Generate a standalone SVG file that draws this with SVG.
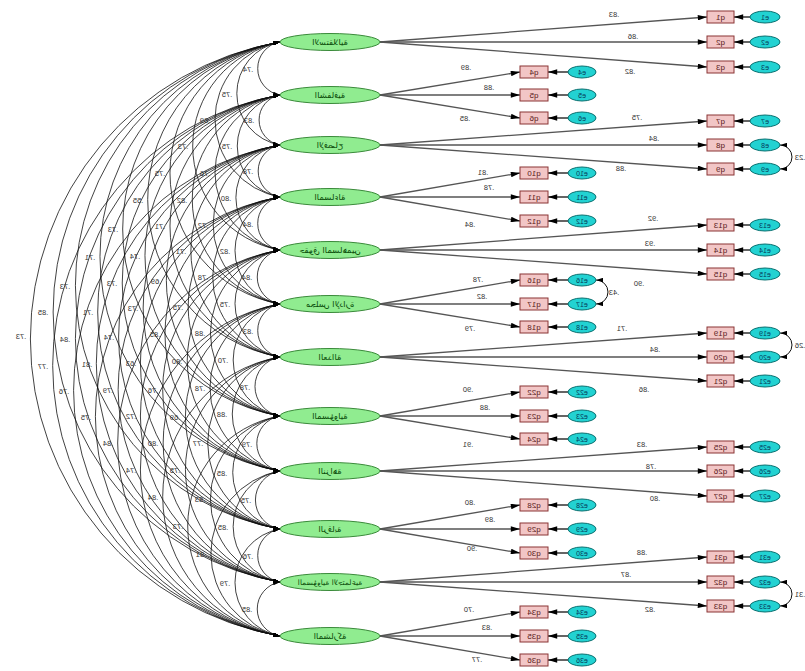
<svg xmlns="http://www.w3.org/2000/svg" width="805" height="671" viewBox="0 0 805 671">
<defs>
<style>
.arc{fill:none;stroke:#111;stroke-width:0.8;marker-start:url(#sa);marker-end:url(#sa)}
.ld{fill:none;stroke:#555;stroke-width:1.3;marker-end:url(#la)}
.er{fill:none;stroke:#111;stroke-width:1.3;marker-end:url(#la)}
.ec{fill:none;stroke:#111;stroke-width:1;marker-start:url(#sa);marker-end:url(#sa)}
.lt{font-family:"Liberation Sans",Arial,sans-serif;font-size:7.5px;fill:#333;text-anchor:middle}
.fe{fill:#90ec90;stroke:#3a8a3a;stroke-width:1}
.ft{font-family:"DejaVu Sans",sans-serif;font-size:8.5px;fill:#0b4d0b;text-anchor:middle}
.qr{fill:#f2c6c6;stroke:#8a3434;stroke-width:1}
.qt{font-family:"Liberation Sans",Arial,sans-serif;font-size:8px;fill:#5a1a1a;text-anchor:middle}
.ee{fill:#22d2d2;stroke:#0a7070;stroke-width:1}
.et{font-family:"Liberation Sans",Arial,sans-serif;font-size:7px;fill:#053a5a;text-anchor:middle}
</style>
<marker id="sa" viewBox="0 0 8 5" refX="8" refY="2.5" markerWidth="7" markerHeight="4.4" markerUnits="userSpaceOnUse" orient="auto-start-reverse"><path d="M0,0 L8,2.5 L0,5 z" fill="#000"/></marker>
<marker id="la" viewBox="0 0 10 6" refX="10" refY="3" markerWidth="10" markerHeight="5.5" markerUnits="userSpaceOnUse" orient="auto-start-reverse"><path d="M0,0 L10,3 L0,6 z" fill="#000"/></marker>
</defs>
<rect width="805" height="671" fill="#fff"/>
<g transform="matrix(-1 0 0 1 805 0)">
<g id="connectors">
<g id="covariances">
<path class="arc" d="M525 42 A26.9 26.9 0 0 1 525 95"/>
<path class="arc" d="M525 42 A52.3 52.3 0 0 1 525 145"/>
<path class="arc" d="M525 42 A78.7 78.7 0 0 1 525 197"/>
<path class="arc" d="M525 42 A105.6 105.6 0 0 1 525 250"/>
<path class="arc" d="M525 42 A133 133 0 0 1 525 304"/>
<path class="arc" d="M525 42 A159.9 159.9 0 0 1 525 357"/>
<path class="arc" d="M525 42 A189.8 189.8 0 0 1 525 416"/>
<path class="arc" d="M525 42 A217.8 217.8 0 0 1 525 471"/>
<path class="arc" d="M525 42 A247.2 247.2 0 0 1 525 529"/>
<path class="arc" d="M525 42 A274.1 274.1 0 0 1 525 582"/>
<path class="arc" d="M525 42 A301.5 301.5 0 0 1 525 636"/>
<path class="arc" d="M525 95 A25.4 25.4 0 0 1 525 145"/>
<path class="arc" d="M525 95 A51.8 51.8 0 0 1 525 197"/>
<path class="arc" d="M525 95 A78.7 78.7 0 0 1 525 250"/>
<path class="arc" d="M525 95 A106.1 106.1 0 0 1 525 304"/>
<path class="arc" d="M525 95 A133 133 0 0 1 525 357"/>
<path class="arc" d="M525 95 A162.9 162.9 0 0 1 525 416"/>
<path class="arc" d="M525 95 A190.9 190.9 0 0 1 525 471"/>
<path class="arc" d="M525 95 A220.3 220.3 0 0 1 525 529"/>
<path class="arc" d="M525 95 A247.2 247.2 0 0 1 525 582"/>
<path class="arc" d="M525 95 A274.6 274.6 0 0 1 525 636"/>
<path class="arc" d="M525 145 A26.4 26.4 0 0 1 525 197"/>
<path class="arc" d="M525 145 A53.3 53.3 0 0 1 525 250"/>
<path class="arc" d="M525 145 A80.7 80.7 0 0 1 525 304"/>
<path class="arc" d="M525 145 A107.6 107.6 0 0 1 525 357"/>
<path class="arc" d="M525 145 A137.6 137.6 0 0 1 525 416"/>
<path class="arc" d="M525 145 A165.5 165.5 0 0 1 525 471"/>
<path class="arc" d="M525 145 A194.9 194.9 0 0 1 525 529"/>
<path class="arc" d="M525 145 A221.8 221.8 0 0 1 525 582"/>
<path class="arc" d="M525 145 A249.2 249.2 0 0 1 525 636"/>
<path class="arc" d="M525 197 A26.9 26.9 0 0 1 525 250"/>
<path class="arc" d="M525 197 A54.3 54.3 0 0 1 525 304"/>
<path class="arc" d="M525 197 A81.2 81.2 0 0 1 525 357"/>
<path class="arc" d="M525 197 A111.2 111.2 0 0 1 525 416"/>
<path class="arc" d="M525 197 A139.1 139.1 0 0 1 525 471"/>
<path class="arc" d="M525 197 A168.5 168.5 0 0 1 525 529"/>
<path class="arc" d="M525 197 A195.4 195.4 0 0 1 525 582"/>
<path class="arc" d="M525 197 A222.8 222.8 0 0 1 525 636"/>
<path class="arc" d="M525 250 A27.4 27.4 0 0 1 525 304"/>
<path class="arc" d="M525 250 A54.3 54.3 0 0 1 525 357"/>
<path class="arc" d="M525 250 A84.3 84.3 0 0 1 525 416"/>
<path class="arc" d="M525 250 A112.2 112.2 0 0 1 525 471"/>
<path class="arc" d="M525 250 A141.6 141.6 0 0 1 525 529"/>
<path class="arc" d="M525 250 A168.5 168.5 0 0 1 525 582"/>
<path class="arc" d="M525 250 A195.9 195.9 0 0 1 525 636"/>
<path class="arc" d="M525 304 A26.9 26.9 0 0 1 525 357"/>
<path class="arc" d="M525 304 A56.9 56.9 0 0 1 525 416"/>
<path class="arc" d="M525 304 A84.8 84.8 0 0 1 525 471"/>
<path class="arc" d="M525 304 A114.2 114.2 0 0 1 525 529"/>
<path class="arc" d="M525 304 A141.1 141.1 0 0 1 525 582"/>
<path class="arc" d="M525 304 A168.5 168.5 0 0 1 525 636"/>
<path class="arc" d="M525 357 A29.9 29.9 0 0 1 525 416"/>
<path class="arc" d="M525 357 A57.9 57.9 0 0 1 525 471"/>
<path class="arc" d="M525 357 A87.3 87.3 0 0 1 525 529"/>
<path class="arc" d="M525 357 A114.2 114.2 0 0 1 525 582"/>
<path class="arc" d="M525 357 A141.6 141.6 0 0 1 525 636"/>
<path class="arc" d="M525 416 A27.9 27.9 0 0 1 525 471"/>
<path class="arc" d="M525 416 A57.4 57.4 0 0 1 525 529"/>
<path class="arc" d="M525 416 A84.3 84.3 0 0 1 525 582"/>
<path class="arc" d="M525 416 A111.7 111.7 0 0 1 525 636"/>
<path class="arc" d="M525 471 A29.4 29.4 0 0 1 525 529"/>
<path class="arc" d="M525 471 A56.3 56.3 0 0 1 525 582"/>
<path class="arc" d="M525 471 A83.8 83.8 0 0 1 525 636"/>
<path class="arc" d="M525 529 A26.9 26.9 0 0 1 525 582"/>
<path class="arc" d="M525 529 A54.3 54.3 0 0 1 525 636"/>
<path class="arc" d="M525 582 A27.4 27.4 0 0 1 525 636"/>
</g>
<g id="loadings">
<path class="ld" d="M425 42 L98 17"/><path class="ld" d="M425 42 L98 42"/><path class="ld" d="M425 42 L98 67"/>
<path class="ld" d="M425 95 L285 72"/><path class="ld" d="M425 95 L285 95"/><path class="ld" d="M425 95 L285 118"/>
<path class="ld" d="M425 145 L98 121"/><path class="ld" d="M425 145 L98 145"/><path class="ld" d="M425 145 L98 169"/>
<path class="ld" d="M425 197 L285 173"/><path class="ld" d="M425 197 L285 197"/><path class="ld" d="M425 197 L285 221"/>
<path class="ld" d="M425 250 L98 225"/><path class="ld" d="M425 250 L98 250"/><path class="ld" d="M425 250 L98 274"/>
<path class="ld" d="M425 304 L285 280"/><path class="ld" d="M425 304 L285 304"/><path class="ld" d="M425 304 L285 327"/>
<path class="ld" d="M425 357 L98 333"/><path class="ld" d="M425 357 L98 357"/><path class="ld" d="M425 357 L98 381"/>
<path class="ld" d="M425 416 L285 392"/><path class="ld" d="M425 416 L285 416"/><path class="ld" d="M425 416 L285 439"/>
<path class="ld" d="M425 471 L98 447"/><path class="ld" d="M425 471 L98 471"/><path class="ld" d="M425 471 L98 496"/>
<path class="ld" d="M425 529 L285 505"/><path class="ld" d="M425 529 L285 529"/><path class="ld" d="M425 529 L285 553"/>
<path class="ld" d="M425 582 L98 557"/><path class="ld" d="M425 582 L98 582"/><path class="ld" d="M425 582 L98 606"/>
<path class="ld" d="M425 636 L285 612"/><path class="ld" d="M425 636 L285 636"/><path class="ld" d="M425 636 L285 660"/>
</g>
<g id="error-arrows">
<path class="er" d="M55 17 L71 17"/><path class="er" d="M55 42 L71 42"/><path class="er" d="M55 67 L71 67"/>
<path class="er" d="M237 72 L257 72"/><path class="er" d="M237 95 L257 95"/><path class="er" d="M237 118 L257 118"/>
<path class="er" d="M55 121 L71 121"/><path class="er" d="M55 145 L71 145"/><path class="er" d="M55 169 L71 169"/>
<path class="er" d="M237 173 L257 173"/><path class="er" d="M237 197 L257 197"/><path class="er" d="M237 221 L257 221"/>
<path class="er" d="M55 225 L71 225"/><path class="er" d="M55 250 L71 250"/><path class="er" d="M55 274 L71 274"/>
<path class="er" d="M237 280 L257 280"/><path class="er" d="M237 304 L257 304"/><path class="er" d="M237 327 L257 327"/>
<path class="er" d="M55 333 L71 333"/><path class="er" d="M55 357 L71 357"/><path class="er" d="M55 381 L71 381"/>
<path class="er" d="M237 392 L257 392"/><path class="er" d="M237 416 L257 416"/><path class="er" d="M237 439 L257 439"/>
<path class="er" d="M55 447 L71 447"/><path class="er" d="M55 471 L71 471"/><path class="er" d="M55 496 L71 496"/>
<path class="er" d="M237 505 L257 505"/><path class="er" d="M237 529 L257 529"/><path class="er" d="M237 553 L257 553"/>
<path class="er" d="M55 557 L71 557"/><path class="er" d="M55 582 L71 582"/><path class="er" d="M55 606 L71 606"/>
<path class="er" d="M237 612 L257 612"/><path class="er" d="M237 636 L257 636"/><path class="er" d="M237 660 L257 660"/>
</g>
<g id="error-covariances">
<path class="ec" d="M25 145 A12 12 0 0 0 25 169"/>
<path class="ec" d="M209 280 A12 12 0 0 0 209 304"/>
<path class="ec" d="M25 333 A12 12 0 0 0 25 357"/>
<path class="ec" d="M25 582 A12 12 0 0 0 25 606"/>
</g>
<g id="labels">
<text class="lt" x="557" y="71.5">.74</text><text class="lt" x="578" y="96.5">.75</text><text class="lt" x="600" y="122.5">.69</text><text class="lt" x="622" y="149">.73</text><text class="lt" x="645" y="176">.75</text><text class="lt" x="667" y="202.5">.55</text><text class="lt" x="692" y="232">.73</text><text class="lt" x="715" y="259.5">.71</text><text class="lt" x="740" y="288.5">.73</text><text class="lt" x="762" y="315">.85</text><text class="lt" x="784" y="339">.73</text>
<text class="lt" x="556" y="123">.83</text><text class="lt" x="578" y="149">.75</text><text class="lt" x="600" y="175.5">.76</text><text class="lt" x="623" y="202.5">.82</text><text class="lt" x="645" y="229">.71</text><text class="lt" x="670" y="258.5">.74</text><text class="lt" x="693" y="286">.73</text><text class="lt" x="717" y="315">.71</text><text class="lt" x="740" y="341.5">.84</text><text class="lt" x="762" y="368.5">.77</text>
<text class="lt" x="557" y="174">.78</text><text class="lt" x="579" y="200.5">.80</text><text class="lt" x="602" y="227.5">.72</text><text class="lt" x="624" y="254">.71</text><text class="lt" x="649" y="283.5">.69</text><text class="lt" x="672" y="311">.73</text><text class="lt" x="696" y="340">.74</text><text class="lt" x="718" y="366.5">.81</text><text class="lt" x="741" y="393.5">.76</text>
<text class="lt" x="557" y="226.5">.84</text><text class="lt" x="580" y="253.5">.82</text><text class="lt" x="602" y="280">.78</text><text class="lt" x="627" y="309.5">.75</text><text class="lt" x="650" y="337">.85</text><text class="lt" x="674" y="366">.63</text><text class="lt" x="697" y="392.5">.79</text><text class="lt" x="719" y="419.5">.75</text>
<text class="lt" x="558" y="280">.84</text><text class="lt" x="580" y="306.5">.75</text><text class="lt" x="605" y="336">.88</text><text class="lt" x="628" y="363.5">.80</text><text class="lt" x="652" y="392.5">.76</text><text class="lt" x="674" y="419">.72</text><text class="lt" x="697" y="446">.84</text>
<text class="lt" x="557" y="333.5">.83</text><text class="lt" x="582" y="363">.70</text><text class="lt" x="605" y="390.5">.78</text><text class="lt" x="630" y="419.5">.69</text><text class="lt" x="652" y="446">.80</text><text class="lt" x="674" y="473">.74</text>
<text class="lt" x="560" y="389.5">.78</text><text class="lt" x="583" y="417">.88</text><text class="lt" x="607" y="446">.77</text><text class="lt" x="630" y="472.5">.75</text><text class="lt" x="652" y="499.5">.84</text>
<text class="lt" x="558" y="446.5">.79</text><text class="lt" x="583" y="475.5">.85</text><text class="lt" x="605" y="502">.83</text><text class="lt" x="627" y="529">.73</text>
<text class="lt" x="559" y="503">.75</text><text class="lt" x="582" y="529.5">.85</text><text class="lt" x="604" y="556.5">.81</text>
<text class="lt" x="557" y="558.5">.76</text><text class="lt" x="580" y="585.5">.79</text>
<text class="lt" x="558" y="612">.85</text>
<text class="lt" x="191" y="17">.83</text><text class="lt" x="172" y="39">.86</text><text class="lt" x="175" y="74">.82</text>
<text class="lt" x="339" y="70">.89</text><text class="lt" x="316" y="90">.88</text><text class="lt" x="340" y="121">.85</text>
<text class="lt" x="168" y="120">.75</text><text class="lt" x="151" y="141">.84</text><text class="lt" x="184" y="171">.88</text>
<text class="lt" x="322" y="175">.81</text><text class="lt" x="316" y="190">.78</text><text class="lt" x="335" y="227">.84</text>
<text class="lt" x="152" y="221">.92</text><text class="lt" x="155" y="246">.93</text><text class="lt" x="166" y="286">.90</text>
<text class="lt" x="327" y="282">.78</text><text class="lt" x="323" y="299">.82</text><text class="lt" x="335" y="331">.79</text>
<text class="lt" x="183" y="331">.71</text><text class="lt" x="150" y="352">.84</text><text class="lt" x="161" y="392">.86</text>
<text class="lt" x="337" y="392">.90</text><text class="lt" x="320" y="410">.88</text><text class="lt" x="337" y="447">.91</text>
<text class="lt" x="163" y="447">.83</text><text class="lt" x="154" y="469">.78</text><text class="lt" x="150" y="501">.80</text>
<text class="lt" x="335" y="505">.80</text><text class="lt" x="315" y="522">.89</text><text class="lt" x="333" y="551">.90</text>
<text class="lt" x="163" y="555">.88</text><text class="lt" x="179" y="577">.87</text><text class="lt" x="155" y="612">.82</text>
<text class="lt" x="336" y="612">.70</text><text class="lt" x="318" y="630">.83</text><text class="lt" x="328" y="662">.77</text>
<text class="lt" x="5" y="160">.23</text>
<text class="lt" x="191" y="295">.43</text>
<text class="lt" x="5" y="348">.26</text>
<text class="lt" x="5" y="597">.31</text>
</g>
</g>
<g id="f1"><ellipse class="fe" cx="475" cy="42" rx="50" ry="8.5"/><text class="ft" x="475" y="45">الاستقلالية</text></g>
<g id="f2"><ellipse class="fe" cx="475" cy="95" rx="50" ry="8.5"/><text class="ft" x="475" y="98">الشفافية</text></g>
<g id="f3"><ellipse class="fe" cx="475" cy="145" rx="50" ry="8.5"/><text class="ft" x="475" y="148">الإفصاح</text></g>
<g id="f4"><ellipse class="fe" cx="475" cy="197" rx="50" ry="8.5"/><text class="ft" x="475" y="200">المساءلة</text></g>
<g id="f5"><ellipse class="fe" cx="475" cy="250" rx="50" ry="8.5"/><text class="ft" x="475" y="253">حقوق المساهمين</text></g>
<g id="f6"><ellipse class="fe" cx="475" cy="304" rx="50" ry="8.5"/><text class="ft" x="475" y="307">مجلس الإدارة</text></g>
<g id="f7"><ellipse class="fe" cx="475" cy="357" rx="50" ry="8.5"/><text class="ft" x="475" y="360">العدالة</text></g>
<g id="f8"><ellipse class="fe" cx="475" cy="416" rx="50" ry="8.5"/><text class="ft" x="475" y="419">المسؤولية</text></g>
<g id="f9"><ellipse class="fe" cx="475" cy="471" rx="50" ry="8.5"/><text class="ft" x="475" y="474">النزاهة</text></g>
<g id="f10"><ellipse class="fe" cx="475" cy="529" rx="50" ry="8.5"/><text class="ft" x="475" y="532">الرقابة</text></g>
<g id="f11"><ellipse class="fe" cx="475" cy="582" rx="50" ry="8.5"/><text class="ft" x="475" y="585" style="font-size:7.5px">المسؤولية الاجتماعية</text></g>
<g id="f12"><ellipse class="fe" cx="475" cy="636" rx="50" ry="8.5"/><text class="ft" x="475" y="639">المشاركة</text></g>
<g id="q1"><rect class="qr" x="71" y="11" width="27" height="12"/><text class="qt" x="84.5" y="20">q1</text></g>
<g id="q2"><rect class="qr" x="71" y="36" width="27" height="12"/><text class="qt" x="84.5" y="45">q2</text></g>
<g id="q3"><rect class="qr" x="71" y="61" width="27" height="12"/><text class="qt" x="84.5" y="70">q3</text></g>
<g id="q4"><rect class="qr" x="257" y="66" width="28" height="12"/><text class="qt" x="271" y="75">q4</text></g>
<g id="q5"><rect class="qr" x="257" y="89" width="28" height="12"/><text class="qt" x="271" y="98">q5</text></g>
<g id="q6"><rect class="qr" x="257" y="112" width="28" height="12"/><text class="qt" x="271" y="121">q6</text></g>
<g id="q7"><rect class="qr" x="71" y="115" width="27" height="12"/><text class="qt" x="84.5" y="124">q7</text></g>
<g id="q8"><rect class="qr" x="71" y="139" width="27" height="12"/><text class="qt" x="84.5" y="148">q8</text></g>
<g id="q9"><rect class="qr" x="71" y="163" width="27" height="12"/><text class="qt" x="84.5" y="172">q9</text></g>
<g id="q10"><rect class="qr" x="257" y="167" width="28" height="12"/><text class="qt" x="271" y="176">q10</text></g>
<g id="q11"><rect class="qr" x="257" y="191" width="28" height="12"/><text class="qt" x="271" y="200">q11</text></g>
<g id="q12"><rect class="qr" x="257" y="215" width="28" height="12"/><text class="qt" x="271" y="224">q12</text></g>
<g id="q13"><rect class="qr" x="71" y="219" width="27" height="12"/><text class="qt" x="84.5" y="228">q13</text></g>
<g id="q14"><rect class="qr" x="71" y="244" width="27" height="12"/><text class="qt" x="84.5" y="253">q14</text></g>
<g id="q15"><rect class="qr" x="71" y="268" width="27" height="12"/><text class="qt" x="84.5" y="277">q15</text></g>
<g id="q16"><rect class="qr" x="257" y="274" width="28" height="12"/><text class="qt" x="271" y="283">q16</text></g>
<g id="q17"><rect class="qr" x="257" y="298" width="28" height="12"/><text class="qt" x="271" y="307">q17</text></g>
<g id="q18"><rect class="qr" x="257" y="321" width="28" height="12"/><text class="qt" x="271" y="330">q18</text></g>
<g id="q19"><rect class="qr" x="71" y="327" width="27" height="12"/><text class="qt" x="84.5" y="336">q19</text></g>
<g id="q20"><rect class="qr" x="71" y="351" width="27" height="12"/><text class="qt" x="84.5" y="360">q20</text></g>
<g id="q21"><rect class="qr" x="71" y="375" width="27" height="12"/><text class="qt" x="84.5" y="384">q21</text></g>
<g id="q22"><rect class="qr" x="257" y="386" width="28" height="12"/><text class="qt" x="271" y="395">q22</text></g>
<g id="q23"><rect class="qr" x="257" y="410" width="28" height="12"/><text class="qt" x="271" y="419">q23</text></g>
<g id="q24"><rect class="qr" x="257" y="433" width="28" height="12"/><text class="qt" x="271" y="442">q24</text></g>
<g id="q25"><rect class="qr" x="71" y="441" width="27" height="12"/><text class="qt" x="84.5" y="450">q25</text></g>
<g id="q26"><rect class="qr" x="71" y="465" width="27" height="12"/><text class="qt" x="84.5" y="474">q26</text></g>
<g id="q27"><rect class="qr" x="71" y="490" width="27" height="12"/><text class="qt" x="84.5" y="499">q27</text></g>
<g id="q28"><rect class="qr" x="257" y="499" width="28" height="12"/><text class="qt" x="271" y="508">q28</text></g>
<g id="q29"><rect class="qr" x="257" y="523" width="28" height="12"/><text class="qt" x="271" y="532">q29</text></g>
<g id="q30"><rect class="qr" x="257" y="547" width="28" height="12"/><text class="qt" x="271" y="556">q30</text></g>
<g id="q31"><rect class="qr" x="71" y="551" width="27" height="12"/><text class="qt" x="84.5" y="560">q31</text></g>
<g id="q32"><rect class="qr" x="71" y="576" width="27" height="12"/><text class="qt" x="84.5" y="585">q32</text></g>
<g id="q33"><rect class="qr" x="71" y="600" width="27" height="12"/><text class="qt" x="84.5" y="609">q33</text></g>
<g id="q34"><rect class="qr" x="257" y="606" width="28" height="12"/><text class="qt" x="271" y="615">q34</text></g>
<g id="q35"><rect class="qr" x="257" y="630" width="28" height="12"/><text class="qt" x="271" y="639">q35</text></g>
<g id="q36"><rect class="qr" x="257" y="654" width="28" height="12"/><text class="qt" x="271" y="663">q36</text></g>
<g id="e1"><ellipse class="ee" cx="40" cy="17" rx="15" ry="6"/><text class="et" x="40" y="19.5">e1</text></g>
<g id="e2"><ellipse class="ee" cx="40" cy="42" rx="15" ry="6"/><text class="et" x="40" y="44.5">e2</text></g>
<g id="e3"><ellipse class="ee" cx="40" cy="67" rx="15" ry="6"/><text class="et" x="40" y="69.5">e3</text></g>
<g id="e4"><ellipse class="ee" cx="223" cy="72" rx="14" ry="6"/><text class="et" x="223" y="74.5">e4</text></g>
<g id="e5"><ellipse class="ee" cx="223" cy="95" rx="14" ry="6"/><text class="et" x="223" y="97.5">e5</text></g>
<g id="e6"><ellipse class="ee" cx="223" cy="118" rx="14" ry="6"/><text class="et" x="223" y="120.5">e6</text></g>
<g id="e7"><ellipse class="ee" cx="40" cy="121" rx="15" ry="6"/><text class="et" x="40" y="123.5">e7</text></g>
<g id="e8"><ellipse class="ee" cx="40" cy="145" rx="15" ry="6"/><text class="et" x="40" y="147.5">e8</text></g>
<g id="e9"><ellipse class="ee" cx="40" cy="169" rx="15" ry="6"/><text class="et" x="40" y="171.5">e9</text></g>
<g id="e10"><ellipse class="ee" cx="223" cy="173" rx="14" ry="6"/><text class="et" x="223" y="175.5">e10</text></g>
<g id="e11"><ellipse class="ee" cx="223" cy="197" rx="14" ry="6"/><text class="et" x="223" y="199.5">e11</text></g>
<g id="e12"><ellipse class="ee" cx="223" cy="221" rx="14" ry="6"/><text class="et" x="223" y="223.5">e12</text></g>
<g id="e13"><ellipse class="ee" cx="40" cy="225" rx="15" ry="6"/><text class="et" x="40" y="227.5">e13</text></g>
<g id="e14"><ellipse class="ee" cx="40" cy="250" rx="15" ry="6"/><text class="et" x="40" y="252.5">e14</text></g>
<g id="e15"><ellipse class="ee" cx="40" cy="274" rx="15" ry="6"/><text class="et" x="40" y="276.5">e15</text></g>
<g id="e16"><ellipse class="ee" cx="223" cy="280" rx="14" ry="6"/><text class="et" x="223" y="282.5">e16</text></g>
<g id="e17"><ellipse class="ee" cx="223" cy="304" rx="14" ry="6"/><text class="et" x="223" y="306.5">e17</text></g>
<g id="e18"><ellipse class="ee" cx="223" cy="327" rx="14" ry="6"/><text class="et" x="223" y="329.5">e18</text></g>
<g id="e19"><ellipse class="ee" cx="40" cy="333" rx="15" ry="6"/><text class="et" x="40" y="335.5">e19</text></g>
<g id="e20"><ellipse class="ee" cx="40" cy="357" rx="15" ry="6"/><text class="et" x="40" y="359.5">e20</text></g>
<g id="e21"><ellipse class="ee" cx="40" cy="381" rx="15" ry="6"/><text class="et" x="40" y="383.5">e21</text></g>
<g id="e22"><ellipse class="ee" cx="223" cy="392" rx="14" ry="6"/><text class="et" x="223" y="394.5">e22</text></g>
<g id="e23"><ellipse class="ee" cx="223" cy="416" rx="14" ry="6"/><text class="et" x="223" y="418.5">e23</text></g>
<g id="e24"><ellipse class="ee" cx="223" cy="439" rx="14" ry="6"/><text class="et" x="223" y="441.5">e24</text></g>
<g id="e25"><ellipse class="ee" cx="40" cy="447" rx="15" ry="6"/><text class="et" x="40" y="449.5">e25</text></g>
<g id="e26"><ellipse class="ee" cx="40" cy="471" rx="15" ry="6"/><text class="et" x="40" y="473.5">e26</text></g>
<g id="e27"><ellipse class="ee" cx="40" cy="496" rx="15" ry="6"/><text class="et" x="40" y="498.5">e27</text></g>
<g id="e28"><ellipse class="ee" cx="223" cy="505" rx="14" ry="6"/><text class="et" x="223" y="507.5">e28</text></g>
<g id="e29"><ellipse class="ee" cx="223" cy="529" rx="14" ry="6"/><text class="et" x="223" y="531.5">e29</text></g>
<g id="e30"><ellipse class="ee" cx="223" cy="553" rx="14" ry="6"/><text class="et" x="223" y="555.5">e30</text></g>
<g id="e31"><ellipse class="ee" cx="40" cy="557" rx="15" ry="6"/><text class="et" x="40" y="559.5">e31</text></g>
<g id="e32"><ellipse class="ee" cx="40" cy="582" rx="15" ry="6"/><text class="et" x="40" y="584.5">e32</text></g>
<g id="e33"><ellipse class="ee" cx="40" cy="606" rx="15" ry="6"/><text class="et" x="40" y="608.5">e33</text></g>
<g id="e34"><ellipse class="ee" cx="223" cy="612" rx="14" ry="6"/><text class="et" x="223" y="614.5">e34</text></g>
<g id="e35"><ellipse class="ee" cx="223" cy="636" rx="14" ry="6"/><text class="et" x="223" y="638.5">e35</text></g>
<g id="e36"><ellipse class="ee" cx="223" cy="660" rx="14" ry="6"/><text class="et" x="223" y="662.5">e36</text></g>
</g>
</svg>
